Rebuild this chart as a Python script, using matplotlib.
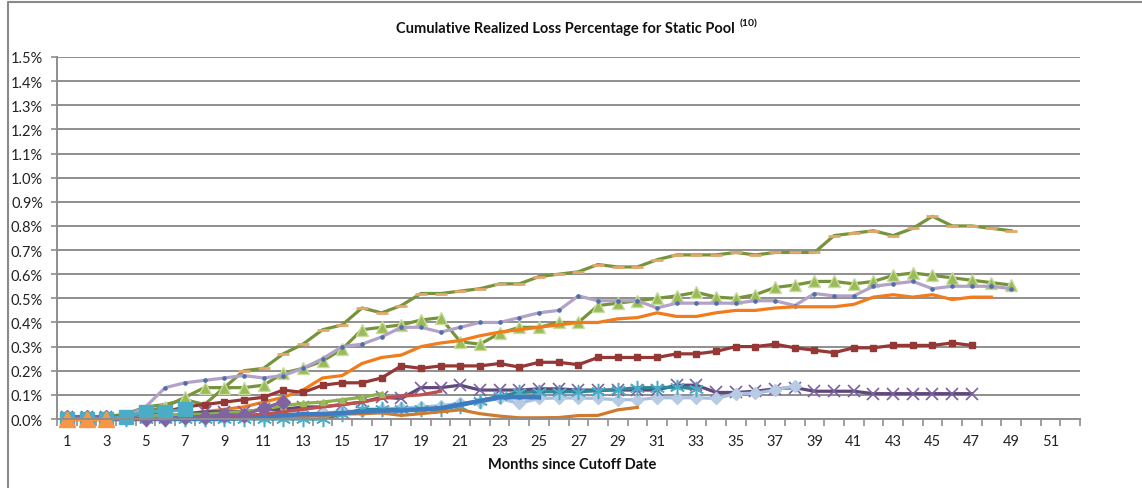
import matplotlib
matplotlib.use("Agg")
import matplotlib.pyplot as plt
from matplotlib.lines import Line2D
import numpy as np

plt.rcParams['font.family'] = ['Lato', 'DejaVu Sans']

# ---------------- data ----------------
months = list(range(1, 53))
x_tick_labels = ['1', '3', '5', '7', '9', '11', '13', '15', '17', '19', '21', '23', '25',
                 '27', '29', '31', '33', '35', '37', '39', '41', '43', '45', '47', '49', '51']
y_ticks = [0.0, 0.1, 0.2, 0.3, 0.4, 0.5, 0.6, 0.7, 0.8, 0.9, 1.0, 1.1, 1.2, 1.3, 1.4, 1.5]
y_tick_labels = ['0.0%', '0.1%', '0.2%', '0.3%', '0.4%', '0.5%', '0.6%', '0.7%',
                 '0.8%', '0.9%', '1.0%', '1.1%', '1.2%', '1.3%', '1.4%', '1.5%']

pool_olive_dash = [0.01, 0.01, 0.01, 0.02, 0.05, 0.06, 0.08, 0.06, 0.13, 0.20,
                   0.21, 0.27, 0.31, 0.37, 0.39, 0.46, 0.44, 0.47, 0.52, 0.52,
                   0.53, 0.54, 0.56, 0.56, 0.59, 0.60, 0.61, 0.64, 0.63, 0.63,
                   0.66, 0.68, 0.68, 0.68, 0.69, 0.68, 0.69, 0.69, 0.69, 0.76,
                   0.77, 0.78, 0.76, 0.79, 0.84, 0.80, 0.80, 0.79, 0.78]
pool_green_tri = [0.01, 0.01, 0.01, 0.01, 0.03, 0.05, 0.09, 0.13, 0.13, 0.13,
                  0.14, 0.19, 0.21, 0.24, 0.29, 0.37, 0.38, 0.39, 0.41, 0.42,
                  0.32, 0.31, 0.355, 0.38, 0.38, 0.40, 0.40, 0.47, 0.48, 0.49,
                  0.50, 0.51, 0.525, 0.505, 0.50, 0.515, 0.545, 0.555, 0.57, 0.57,
                  0.56, 0.57, 0.595, 0.605, 0.595, 0.585, 0.575, 0.565, 0.555]
pool_lavender = [0.01, 0.01, 0.01, 0.01, 0.05, 0.13, 0.15, 0.16, 0.17, 0.18,
                 0.17, 0.18, 0.21, 0.25, 0.30, 0.31, 0.34, 0.38, 0.38, 0.36,
                 0.38, 0.40, 0.40, 0.42, 0.44, 0.45, 0.51, 0.49, 0.49, 0.49,
                 0.46, 0.48, 0.48, 0.48, 0.48, 0.49, 0.49, 0.47, 0.52, 0.51,
                 0.51, 0.55, 0.56, 0.57, 0.54, 0.55, 0.55, 0.55, 0.54]
pool_orange = [0.0, 0.0, 0.0, 0.0, 0.01, 0.01, 0.02, 0.03, 0.04, 0.05,
               0.07, 0.09, 0.12, 0.17, 0.18, 0.23, 0.255, 0.265, 0.30, 0.315,
               0.325, 0.345, 0.36, 0.37, 0.38, 0.39, 0.40, 0.40, 0.415, 0.42,
               0.44, 0.425, 0.425, 0.44, 0.45, 0.45, 0.46, 0.465, 0.465, 0.465,
               0.475, 0.505, 0.515, 0.505, 0.515, 0.495, 0.505, 0.505]
pool_darkred = [0.01, 0.01, 0.01, 0.01, 0.02, 0.03, 0.05, 0.06, 0.07, 0.08,
                0.09, 0.12, 0.11, 0.14, 0.15, 0.15, 0.17, 0.22, 0.21, 0.22,
                0.22, 0.22, 0.23, 0.215, 0.235, 0.235, 0.225, 0.255, 0.255, 0.255,
                0.255, 0.27, 0.27, 0.28, 0.30, 0.30, 0.31, 0.295, 0.285, 0.275,
                0.295, 0.295, 0.305, 0.305, 0.305, 0.315, 0.305]
pool_purple_x = [0.01, 0.01, 0.01, 0.01, 0.01, 0.01, 0.02, 0.03, 0.03, 0.03,
                 0.04, 0.04, 0.05, 0.05, 0.06, 0.07, 0.09, 0.085, 0.13, 0.13,
                 0.14, 0.12, 0.12, 0.12, 0.125, 0.125, 0.12, 0.12, 0.12, 0.12,
                 0.12, 0.14, 0.14, 0.11, 0.11, 0.115, 0.125, 0.13, 0.115, 0.115,
                 0.115, 0.105, 0.105, 0.105, 0.105, 0.105, 0.105]
pool_lightblue = [0.0, 0.0, 0.0, 0.0, 0.0, 0.0, 0.0, 0.0, 0.005, 0.01,
                  0.01, 0.015, 0.02, 0.025, 0.03, 0.035, 0.04, 0.045, 0.05, 0.055,
                  0.065, 0.07, 0.085, 0.065, 0.085, 0.087, 0.087, 0.085, 0.08, 0.08,
                  0.088, 0.088, 0.088, 0.085, 0.105, 0.107, 0.12, 0.137]
pool_teal_star = [0.0, 0.0, 0.0, 0.0, 0.0, 0.0, 0.0, 0.0, 0.0, 0.0,
                  0.0, 0.0, 0.0, 0.0, 0.02, 0.04, 0.04, 0.04, 0.04, 0.04,
                  0.055, 0.075, 0.095, 0.11, 0.113, 0.113, 0.113, 0.117, 0.122, 0.13,
                  0.13, 0.132, 0.125]
pool_brown = [0.0, 0.0, 0.0, 0.0, 0.0, 0.0, 0.0, 0.0, 0.003, 0.005,
              0.008, 0.01, 0.012, 0.015, 0.02, 0.022, 0.025, 0.015, 0.022, 0.03,
              0.038, 0.022, 0.012, 0.005, 0.005, 0.006, 0.014, 0.015, 0.038, 0.048]
pool_blue = [0.0, 0.0, 0.0, 0.0, 0.0, 0.0, 0.0, 0.0, 0.0, 0.005,
             0.01, 0.015, 0.02, 0.02, 0.025, 0.03, 0.035, 0.035, 0.04, 0.045,
             0.06, 0.075, 0.09, 0.09, 0.09]
pool_red = [0.0, 0.0, 0.0, 0.0, 0.0, 0.0, 0.005, 0.005, 0.01, 0.015,
            0.02, 0.03, 0.04, 0.05, 0.06, 0.07, 0.085, 0.095, 0.10, 0.115]
pool_lightgreen = [0.0, 0.0, 0.0, 0.005, 0.01, 0.015, 0.02, 0.02, 0.025, 0.03,
                   0.04, 0.055, 0.065, 0.07, 0.08, 0.09, 0.105]
pool_purple_dia = [0.01, 0.01, 0.01, 0.01, 0.0, 0.0, 0.01, 0.01, 0.017, 0.017,
                   0.044, 0.072]
pool_teal_sq = [0.0, 0.0, 0.0, 0.01, 0.03, 0.03, 0.04]
pool_orange_tri = [0.0, 0.0, 0.0]

# ---------------- figure ----------------
W, H = 1142, 489
fig = plt.figure(figsize=(W / 100, H / 100), dpi=100)
ax = fig.add_axes([57 / W, 1 - 420 / H, (1080 - 57) / W, (420 - 58) / H])

grid_col = '#8E8E8E'
ax.set_ylim(0, 1.5)
ax.set_xlim(0.5, 52.5)
ax.set_yticks(y_ticks)
ax.set_yticklabels(y_tick_labels)
for yv in y_ticks[1:]:
    ax.axhline(yv, color=grid_col, lw=1.4, zorder=0)

ax.set_xticks(np.arange(0.5, 53, 1.0))
ax.set_xticklabels([])
ax.set_xticks(months[0::2][:len(x_tick_labels)], minor=True)
ax.set_xticklabels(x_tick_labels, minor=True)
ax.tick_params(axis='x', which='major', length=5, width=1.2, color=grid_col, direction='out')
ax.tick_params(axis='x', which='minor', length=0, pad=11, labelsize=10.5, labelcolor='#222222')
ax.tick_params(axis='y', which='major', length=4, width=1.2, color=grid_col, direction='out',
               pad=6, labelsize=10.5, labelcolor='#222222')

for s in ['top', 'right']:
    ax.spines[s].set_visible(False)
for s in ['left', 'bottom']:
    ax.spines[s].set_color(grid_col)
    ax.spines[s].set_linewidth(1.4)


def draw(vals, color, lw=2.3, **kw):
    ax.plot(months[:len(vals)], vals, color=color, lw=lw, solid_joinstyle='round',
            clip_on=False, **kw)


draw(pool_olive_dash, '#77933C', marker='_', ms=8, mew=2.0, mec='#E2A86C')
draw(pool_green_tri, '#76953A', marker='^', ms=9, mfc='#9BBB59', mec='#C9DCA0', mew=1.0)
draw(pool_lavender, '#B3A2C7', marker='o', ms=2.3, mfc='#4F6FA8', mec='#4F6FA8')
draw(pool_orange, '#F27B1C')
draw(pool_darkred, '#953735', marker='s', ms=4.5, mfc='#953735', mec='#953735')
draw(pool_purple_x, '#5F497A', marker='x', ms=9, mew=1.2, mec='#7A62A0')
draw(pool_lightblue, '#A9BFDF', marker='D', ms=6, mfc='#B7CBE5', mec='#B7CBE5')
draw(pool_teal_star, '#31869C', marker=(6, 2, 0), ms=11, mew=1.1, mec='#4BACC6')
draw(pool_brown, '#D07A2E')
draw(pool_blue, '#3E7CC2', lw=3.2)
draw(pool_red, '#C0504D')
draw(pool_lightgreen, '#8DB04A', marker='^', ms=4, mfc='#9BBB59', mec='#9BBB59')
draw(pool_purple_dia, '#8064A2', marker='D', ms=7, mfc='#8064A2', mec='#8064A2')
draw(pool_teal_sq, '#4BACC6', marker='s', ms=10, mfc='#4BACC6', mec='#4BACC6')
draw(pool_orange_tri, '#F79646', marker='^', ms=11, mfc='#F79646', mec='#F79646')

# axis label
fig.text(572 / W, 1 - 465 / H, 'Months since Cutoff Date', ha='center', va='center',
         fontsize=10.5, fontweight='bold', color='#111111')

# title with superscript
t = fig.text(565 / W, 1 - 29 / H, 'Cumulative Realized Loss Percentage for Static Pool',
             ha='center', va='center', fontsize=10.5, fontweight='bold', color='#111111')
fig.canvas.draw()
bb = t.get_window_extent(renderer=fig.canvas.get_renderer())
fig.text((bb.x1 + 5) / W, (bb.y1 - 2) / H, '(10)', ha='left', va='center',
         fontsize=7.5, fontweight='bold', color='#111111')

# chart frame
fig.add_artist(Line2D([8 / W, 8 / W, 1.0], [0.0, 1 - 3 / H, 1 - 3 / H],
                      transform=fig.transFigure, color='#8A8A8A', lw=1.5))

fig.savefig('out.png', dpi=100)
